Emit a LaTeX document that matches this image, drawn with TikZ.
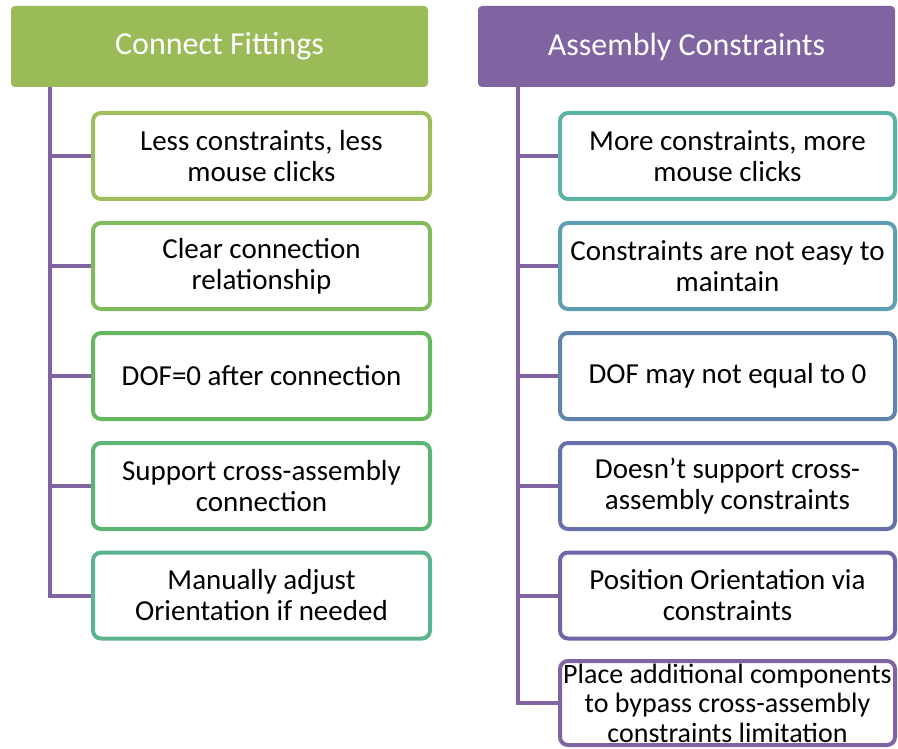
\documentclass[tikz,border=0pt]{standalone}
\usepackage{fontspec}
\setmainfont{Carlito}
\definecolor{hgreen}{HTML}{9BBB59}
\definecolor{hpurple}{HTML}{8064A2}
\definecolor{la}{HTML}{9DBE5B}
\definecolor{lb}{HTML}{82BB5D}
\definecolor{lc}{HTML}{64B75E}
\definecolor{ld}{HTML}{5CB573}
\definecolor{le}{HTML}{5CB38F}
\definecolor{ra}{HTML}{5BB3A6}
\definecolor{rb}{HTML}{5E9EB2}
\definecolor{rc}{HTML}{5F85AC}
\definecolor{rd}{HTML}{6570AD}
\definecolor{re}{HTML}{6F65A8}
\definecolor{rf}{HTML}{8064A2}
\tikzset{
  header/.style={rectangle, rounded corners=4pt, fill=#1, draw=none,
    minimum width=417pt, minimum height=81pt, text=white,
    font=\fontsize{32}{36}\selectfont},
  itembox/.style={rectangle, rounded corners=8pt, draw=#1, line width=4pt, fill=white,
    minimum width=337pt, minimum height=86pt, align=center, inner sep=0pt,
    font=\fontsize{29}{31}\selectfont},
  ritembox/.style={itembox=#1, minimum width=335pt},
  conn/.style={draw=hpurple, line width=4pt, line join=miter}
}
\begin{document}
\begin{tikzpicture}[x=1pt,y=-1pt]
\useasboundingbox (0,0) rectangle (898,749);
% headers
\node[header=hgreen] (hL) at (219.5,46.5) {Connect Fittings};
\node[header=hpurple] (hR) at (686.5,46.5) {Assembly Constraints};
% spine anchors
\coordinate (ls) at (50,87);
\coordinate (rs) at (518,87);
% left boxes
\node[itembox=la] (L1) at (261.5,156) {Less constraints, less\\mouse clicks};
\node[itembox=lb] (L2) at (261.5,266) {Clear connection\\relationship};
\node[itembox=lc] (L3) at (261.5,376) {DOF=0 after connection};
\node[itembox=ld] (L4) at (261.5,486) {Support cross-assembly\\connection};
\node[itembox=le] (L5) at (261.5,595.5) {Manually adjust\\Orientation if needed};
% right boxes
\node[ritembox=ra] (R1) at (727.5,156) {More constraints, more\\mouse clicks};
\node[ritembox=rb] (R2) at (727.5,266) {Constraints are not easy to\\maintain};
\node[ritembox=rc] (R3) at (727.5,376) {DOF may not equal to 0};
\node[ritembox=rd] (R4) at (727.5,486) {Doesn’t support cross-\\assembly constraints};
\node[ritembox=re] (R5) at (727.5,595.5) {Position Orientation via\\constraints};
\node[ritembox=rf, minimum height=84pt, font=\fontsize{28}{29.5}\selectfont] (R6) at (727.5,703) {Place additional components\\to bypass cross-assembly\\constraints limitation};
% connectors
\foreach \n in {L1,L2,L3,L4,L5} \draw[conn] (ls) |- (\n.west);
\foreach \n in {R1,R2,R3,R4,R5,R6} \draw[conn] (rs) |- (\n.west);
\end{tikzpicture}
\end{document}
